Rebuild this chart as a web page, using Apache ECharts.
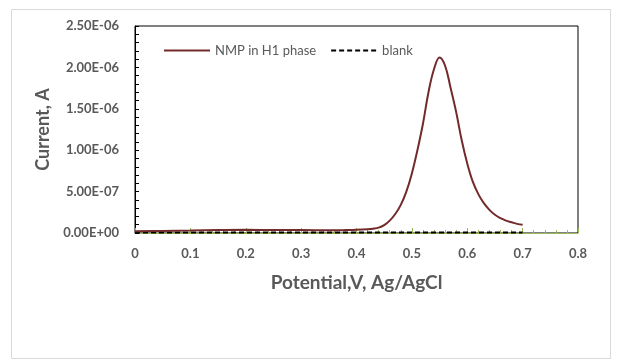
<!DOCTYPE html>
<html>
<head>
<meta charset="utf-8">
<script src="https://cdn.jsdelivr.net/npm/echarts@6/dist/echarts.min.js"></script>
<style>html,body{margin:0;padding:0;background:#fff}#c{width:618px;height:363px}</style>
</head>
<body>
<div id="c"></div>
<script>
const potential = [0, 0.05, 0.1, 0.15, 0.2, 0.25, 0.3, 0.35, 0.38, 0.4, 0.42, 0.43, 0.44, 0.45, 0.46, 0.47, 0.48, 0.49, 0.5, 0.51, 0.52, 0.53, 0.54, 0.55, 0.56, 0.57, 0.58, 0.59, 0.6, 0.61, 0.62, 0.63, 0.64, 0.65, 0.66, 0.67, 0.68, 0.69, 0.7];
const nmpCurrent = [2.0e-8, 2.5e-8, 3.0e-8, 3.5e-8, 3.8e-8, 3.7e-8, 3.5e-8, 3.3e-8, 3.5e-8, 3.8e-8, 4.5e-8, 5.2e-8, 6.5e-8, 9.5e-8, 1.5e-7, 2.3e-7, 3.4e-7, 5.0e-7, 7.2e-7, 1.0e-6, 1.32e-6, 1.7e-6, 1.98e-6, 2.12e-6, 2.02e-6, 1.75e-6, 1.46e-6, 1.12e-6, 8.4e-7, 6.2e-7, 4.7e-7, 3.6e-7, 2.8e-7, 2.2e-7, 1.8e-7, 1.5e-7, 1.3e-7, 1.1e-7, 1.0e-7];
const blankPotential = [0, 0.1, 0.2, 0.3, 0.4, 0.5, 0.6, 0.7];
const blankCurrent = [5e-9, 5e-9, 5e-9, 5e-9, 5e-9, 5e-9, 5e-9, 5e-9];
const yTickLabels = ['0.00E+00', '5.00E-07', '1.00E-06', '1.50E-06', '2.00E-06', '2.50E-06'];

const chart = echarts.init(document.getElementById('c'), null, {renderer: 'canvas'});
const font = 'Lato, "Open Sans", sans-serif';
chart.setOption({
  animation: false,
  graphic: [{
    type: 'rect', left: 9, top: 7,
    shape: {width: 599, height: 349},
    style: {fill: 'none', stroke: '#d9d9d9', lineWidth: 1}, silent: true, z: -1
  }],
  grid: {left: 135, top: 26, width: 443, height: 207, show: true, borderColor: '#000', borderWidth: 1, backgroundColor: 'transparent'},
  legend: {
    left: 158, top: 39, itemGap: 14, itemWidth: 46, itemHeight: 10,
    itemStyle: {opacity: 0},
    lineStyle: {width: 2},
    textStyle: {fontFamily: font, fontSize: 13, color: '#595959'},
    data: ['NMP in H1 phase', 'blank']
  },
  xAxis: {
    type: 'value', min: 0, max: 0.8, interval: 0.1,
    name: 'Potential,V, Ag/AgCl', nameLocation: 'middle', nameGap: 40,
    nameTextStyle: {fontFamily: font, fontSize: 19, fontWeight: 'bold', color: '#595959'},
    axisLine: {show: true, onZero: false, lineStyle: {color: '#9BBB59', width: 1}},
    axisTick: {show: true, inside: true, length: 5, lineStyle: {color: '#9BBB59'}},
    minorTick: {show: true, splitNumber: 5, length: 3, lineStyle: {color: '#9BBB59'}},
    splitLine: {show: false},
    axisLabel: {fontFamily: font, fontSize: 13, fontWeight: 'bold', color: '#595959', margin: 14,
      formatter: v => String(Math.round(v * 10) / 10)}
  },
  yAxis: {
    type: 'value', min: 0, max: 2.5e-6, interval: 5e-7,
    name: 'Current, A', nameLocation: 'middle', nameGap: 82,
    nameTextStyle: {fontFamily: font, fontSize: 18, fontWeight: 'bold', color: '#595959'},
    axisLine: {show: true, lineStyle: {color: '#000', width: 1}},
    axisTick: {show: true, inside: true, length: 4, lineStyle: {color: '#000'}},
    minorTick: {show: true, splitNumber: 5, length: 4, lineStyle: {color: '#000'}},
    splitLine: {show: false},
    axisLabel: {fontFamily: font, fontSize: 13, fontWeight: 'bold', color: '#595959', margin: 16,
      formatter: v => yTickLabels[Math.round(v / 5e-7)]}
  },
  series: [
    {
      name: 'NMP in H1 phase', type: 'line', smooth: 0.4, symbol: 'none',
      data: potential.map((p, i) => [p, nmpCurrent[i]]),
      lineStyle: {color: '#722B2A', width: 2}, itemStyle: {color: '#722B2A'}, z: 3
    },
    {
      name: 'blank', type: 'line', symbol: 'none',
      data: blankPotential.map((p, i) => [p, blankCurrent[i]]),
      lineStyle: {color: '#000', width: 2, type: [5, 3]}, itemStyle: {color: '#000'}, z: 2
    }
  ]
});
</script>
</body>
</html>
